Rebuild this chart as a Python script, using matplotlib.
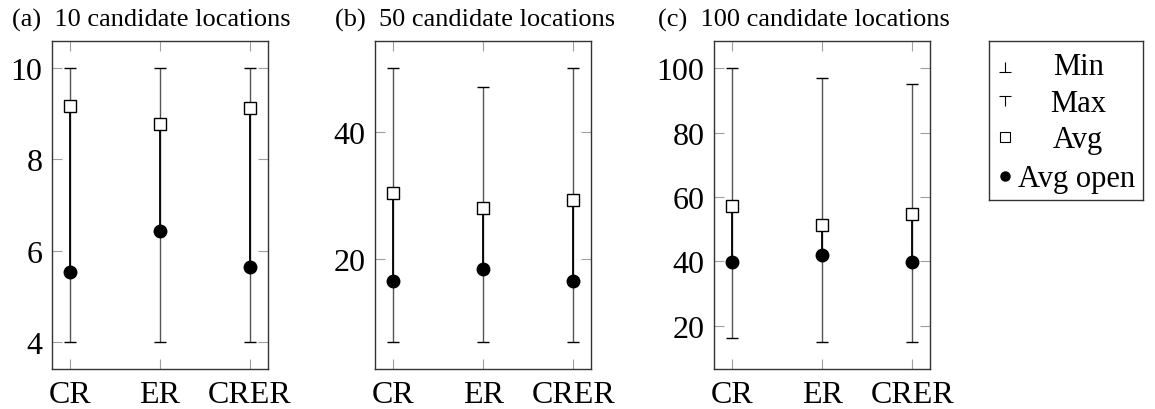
import numpy as np
import matplotlib.pyplot as plt
from matplotlib.path import Path

plt.rcParams['font.family'] = ['Liberation Serif', 'DejaVu Serif']

methods = ['CR', 'ER', 'CRER']
titles = ['(a)  10 candidate locations', '(b)  50 candidate locations',
          '(c)  100 candidate locations']

min_vals = [[4, 4, 4], [7, 7, 7], [16, 15, 15]]
max_vals = [[10, 10, 10], [50, 47, 50], [100, 97, 95]]
avg_vals = [[9.17, 8.77, 9.12], [30.4, 28.0, 29.3], [57.2, 51.3, 54.6]]
avg_open_vals = [[5.53, 6.42, 5.65], [16.5, 18.4, 16.5], [39.9, 41.8, 39.9]]
yticks = [[4, 6, 8, 10], [20, 40], [20, 40, 60, 80, 100]]

W, H = 1155, 410
fig = plt.figure(figsize=(W / 100, H / 100), dpi=100)

lefts = [52, 375.3, 714.3]
title_x = [12.5, 335, 658]
x = np.arange(len(methods))

for i in range(3):
    ax = fig.add_axes([lefts[i] / W, 1 - 370 / H, 216 / W, 328 / H])
    lo = min(min_vals[i])
    hi = max(max_vals[i])
    pad = (hi - lo) * 0.1
    ax.set_ylim(lo - pad, hi + pad)
    ax.set_xlim(-0.2, 2.2)

    ax.vlines(x, min_vals[i], max_vals[i], color='#555555', lw=1.0, zorder=2)
    ax.vlines(x, avg_open_vals[i], avg_vals[i], color='black', lw=1.3, zorder=2)
    ax.plot(x, min_vals[i], ls='none', marker='_', ms=9, mew=1.0, color='black', zorder=3)
    ax.plot(x, max_vals[i], ls='none', marker='_', ms=9, mew=1.0, color='black', zorder=3)
    ax.plot(x, avg_vals[i], ls='none', marker='s', ms=8, mfc='white', mec='black',
            mew=1.0, zorder=4)
    ax.plot(x, avg_open_vals[i], ls='none', marker='o', ms=9, color='black', zorder=4)

    ax.set_xticks(x)
    ax.set_xticklabels(methods)
    ax.set_yticks(yticks[i])
    ax.tick_params(direction='in', length=7, width=0.8, color='#a0a0a0',
                   top=True, right=True, labelsize=23, pad=7)
    ax.tick_params(axis='x', pad=8)
    for s in ax.spines.values():
        s.set_linewidth(1.0)
        s.set_color('#333333')

    fig.text(title_x[i] / W, 1 - 27 / H, titles[i], fontsize=19, va='baseline', ha='left')

# legend box drawn as its own small axes (pixel coordinates inside)
lg = fig.add_axes([989.3 / W, 1 - 200.7 / H, 154 / W, 159 / H])
lg.set_xlim(0, 154)
lg.set_ylim(159, 0)
lg.set_xticks([])
lg.set_yticks([])
for s in lg.spines.values():
    s.set_linewidth(1.0)
    s.set_color('#333333')

perp = Path([(-1, -0.8), (1, -0.8), (0, -0.8), (0, 0.8)],
            [Path.MOVETO, Path.LINETO, Path.MOVETO, Path.LINETO])
top = Path([(-1, 0.8), (1, 0.8), (0, 0.8), (0, -0.8)],
           [Path.MOVETO, Path.LINETO, Path.MOVETO, Path.LINETO])

mx = 15.7
lg.plot(mx, 26, marker=perp, ms=9, mew=0.8, color='black', ls='none')
lg.plot(mx, 60, marker=top, ms=9, mew=0.8, color='black', ls='none')
lg.plot(mx, 96.6, marker='s', ms=6.5, mfc='white', mec='black', mew=0.8, ls='none')
lg.plot(mx, 135, marker='o', ms=6.5, color='black', ls='none')

labels = ['Min', 'Max', 'Avg', 'Avg open']
label_y = [33.3, 70, 106.6, 145]
for lab, ly in zip(labels[:3], label_y[:3]):
    lg.text(89, ly, lab, fontsize=22, ha='center', va='baseline')
lg.text(28.7, label_y[3], labels[3], fontsize=22, ha='left', va='baseline')

fig.savefig('out.png', dpi=100)
